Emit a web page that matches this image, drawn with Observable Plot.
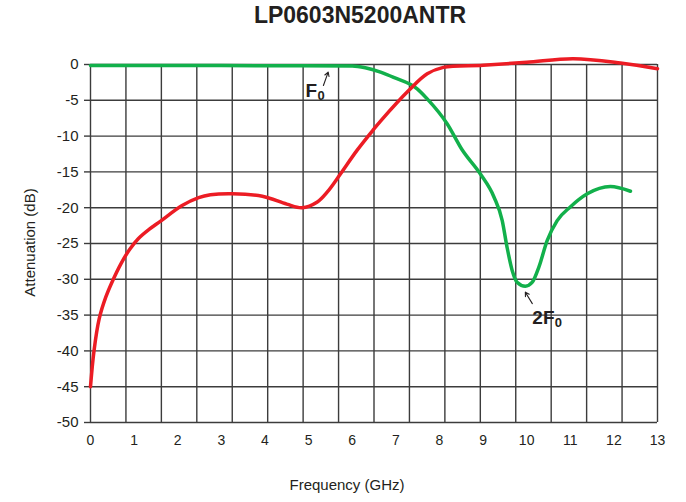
<!DOCTYPE html>
<html>
<head>
<meta charset="utf-8">
<script src="https://cdn.jsdelivr.net/npm/d3@7"></script>
<script src="https://cdn.jsdelivr.net/npm/@observablehq/plot@0.6"></script>
<style>
  html, body { margin: 0; padding: 0; background: #fff; }
  body { width: 686px; height: 502px; position: relative; overflow: hidden; font-family: "Liberation Sans", Arial, Helvetica, sans-serif; }
  #chart { position: absolute; left: 0; top: 0; z-index: 1; }
  #title { position: absolute; z-index: 2; left: 0; width: 720px; top: 4px; text-align: center; font-size: 23px; line-height: 23px; font-weight: bold; color: #231f20; }
  #xlabel { position: absolute; z-index: 2; left: 247px; width: 200px; top: 477px; text-align: center; font-size: 15px; line-height: 15px; color: #231f20; }
  #ylabel { position: absolute; z-index: 2; left: -71px; width: 200px; top: 235px; text-align: center; font-size: 15px; line-height: 15px; color: #231f20; transform: rotate(-90deg); }
</style>
</head>
<body>
<div id="chart"></div>
<div id="title">LP0603N5200ANTR</div>
<div id="xlabel">Frequency (GHz)</div>
<div id="ylabel">Attenuation (dB)</div>
<script>
// Red curve (GHz, dB)
const redFreq = [0, 0.08, 0.2, 0.35, 0.5, 0.7, 0.9, 1.1, 1.35, 1.6, 2.1, 2.48, 2.75, 3.25, 3.94, 4.5, 4.85, 5.2, 5.43, 5.73, 6.11, 6.5, 6.65, 7.3, 7.72, 8.09, 9.0, 10.0, 11.07, 12.15, 13.0];
const redAtt  = [-45, -40, -35.5, -32.5, -30.3, -27.8, -25.8, -24.3, -23.0, -21.9, -19.7, -18.6, -18.2, -18.05, -18.4, -19.5, -20.0, -19.2, -17.8, -15.3, -12.0, -9.0, -7.9, -3.6, -1.3, -0.4, -0.1, 0.3, 0.8, 0.2, -0.6];

// Green curve (GHz, dB)
const greenFreq = [0, 3.0, 6.0, 6.3, 6.65, 6.95, 7.49, 7.72, 8.18, 8.52, 8.94, 9.25, 9.44, 9.55, 9.67, 9.78, 9.97, 10.13, 10.28, 10.47, 10.7, 11.0, 11.39, 11.92, 12.38];
const greenAtt  = [-0.15, -0.15, -0.2, -0.45, -1.07, -1.8, -3.4, -4.8, -8.3, -11.9, -15.3, -18.5, -21.8, -25.5, -28.8, -30.4, -30.96, -30.4, -28.3, -24.6, -21.8, -19.9, -18.06, -17.04, -17.7];

// Axis ticks
const xTicks = [0, 1, 2, 3, 4, 5, 6, 7, 8, 9, 10, 11, 12, 13];
const yTicks = [0, -5, -10, -15, -20, -25, -30, -35, -40, -45, -50];
const gridColumns = 16;

// Annotations
const annoMain = ["F", "2F"];
const annoSub = ["0", "0"];
const annoX = [4.93, 10.13];
const annoY = [-4.57, -36.2];
const annoSubDx = [12, 22.5];
const arrowX1 = [5.34, 10.13];
const arrowY1 = [-2.93, -33.4];
const arrowX2 = [5.45, 9.97];
const arrowY2 = [-1.07, -31.8];

const red = redFreq.map((f, i) => ({f, a: redAtt[i]}));
const green = greenFreq.map((f, i) => ({f, a: greenAtt[i]}));
const gridX = d3.range(gridColumns + 1).map(k => k * 13 / gridColumns);
const annos = annoMain.map((t, i) => ({t, s: annoSub[i], x: annoX[i], y: annoY[i]}));
const arrows = arrowX1.map((x1, i) => ({x1, y1: arrowY1[i], x2: arrowX2[i], y2: arrowY2[i]}));

const gridColor = "#3c3c3c";

const chart = Plot.plot({
  width: 686,
  height: 502,
  marginLeft: 90,
  marginRight: 29,
  marginTop: 64,
  marginBottom: 80,
  style: {fontFamily: "Liberation Sans, Arial, Helvetica, sans-serif", fontSize: "14px", color: "#231f20", background: "transparent", overflow: "visible"},
  x: {domain: [0, 13]},
  y: {domain: [-50, 0]},
  marks: [
    Plot.ruleY(yTicks, {stroke: gridColor, strokeWidth: 1.4}),
    Plot.ruleX(gridX, {stroke: gridColor, strokeWidth: 1.4}),
    Plot.axisY({ticks: yTicks, tickSize: 6, tickPadding: 6, tickFormat: d => String(d), stroke: gridColor, strokeWidth: 1.4, fontSize: 15, label: null}),
    Plot.axisX({ticks: xTicks, tickSize: 0, tickPadding: 13, tickFormat: d => String(d), fontSize: 14, label: null}),
    Plot.line(green, {x: "f", y: "a", stroke: "#12b04b", strokeWidth: 3.5, curve: "monotone-x"}),
    Plot.line(red, {x: "f", y: "a", stroke: "#ec1c24", strokeWidth: 3.5, curve: "catmull-rom"}),
    Plot.arrow(arrows, {x1: "x1", y1: "y1", x2: "x2", y2: "y2", stroke: "#231f20", strokeWidth: 1.1, headLength: 6}),
    Plot.text(annos, {x: "x", y: "y", text: "t", textAnchor: "start", lineAnchor: "bottom", fontSize: 19, fontWeight: "bold", fill: "#231f20"}),
    Plot.text(annos, {x: "x", y: "y", text: "s", textAnchor: "start", lineAnchor: "bottom", fontSize: 13, fontWeight: "bold", fill: "#231f20", dy: 3})
  ]
});
document.getElementById("chart").appendChild(chart);
// per-datum subscript offsets after the main glyphs
d3.select(chart).selectAll("g[aria-label='text']").filter((d, i) => i === 1).selectAll("text").attr("dx", (d, i) => annoSubDx[i]);
</script>
</body>
</html>
